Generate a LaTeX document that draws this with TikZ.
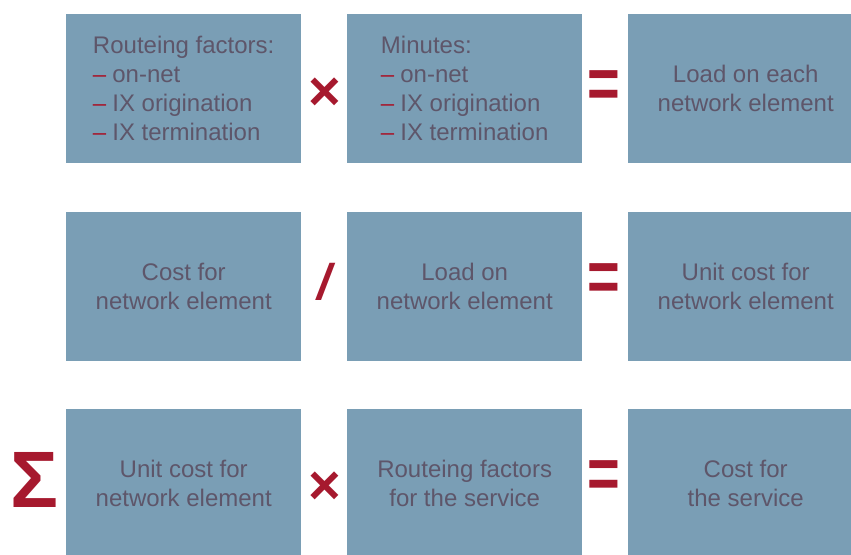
\documentclass[tikz,border=0pt]{standalone}
\usepackage{fontspec}
\setmainfont{Liberation Sans}
\usepackage{xcolor}
\definecolor{cellblue}{RGB}{122,158,181}
\definecolor{celltext}{RGB}{94,86,106}
\definecolor{opred}{RGB}{166,25,46}
\newcommand{\reddash}{{\color{opred}–}\hspace{6pt}}

\begin{document}
\begin{tikzpicture}[x=1pt,y=-1pt,
  cell/.style={fill=cellblue, text=celltext, minimum width=235pt, minimum height=149pt,
    inner sep=0pt, anchor=north west, align=center, font=\fontsize{24}{29}\selectfont},
  listcell/.style={cell, align=left},
  oper/.style={text=opred, inner sep=0pt}]
  % page frame, last row and column run off it
  \useasboundingbox (0,0) rectangle (851,554);
  \clip (0,0) rectangle (851,554);

  % first row: routeing factors x minutes = load
  \node[listcell] (factors) at (66,14) {Routeing factors:\\ \reddash on-net\\ \reddash IX origination\\ \reddash IX termination};
  \node[listcell] (minutes) at (347,14) {Minutes:\\ \reddash on-net\\ \reddash IX origination\\ \reddash IX termination};
  \node[cell] (load) at (628,14) {Load on each\\ network element};

  % second row: cost / load = unit cost
  \node[cell] (cost) at (66,212) {Cost for\\ network element};
  \node[cell] (loadne) at (347,212) {Load on\\ network element};
  \node[cell] (unitcost) at (628,212) {Unit cost for\\ network element};

  % third row: sum of unit cost x service factors = service cost
  \node[cell] (unitne) at (66,409) {Unit cost for\\ network element};
  \node[cell] (servfac) at (347,409) {Routeing factors\\ for the service};
  \node[cell] (servcost) at (628,409) {Cost for\\ the service};

  % operators
  \node[oper, font=\bfseries\fontsize{56}{56}\selectfont] (times1) at (325,94) {×};
  \node[oper, font=\bfseries\fontsize{56}{56}\selectfont] (times3) at (325,488) {×};
  \node[oper, font=\bfseries\fontsize{50}{50}\selectfont] (div) at (327,282) {\textit{/}};
  \foreach \name/\y in {eq1/90, eq2/283, eq3/480} {
    \node[oper, font=\bfseries\fontsize{56}{56}\selectfont] (\name) at (604,\y) {\scalebox{1}[1.3]{=}};
  }
  \node[oper, font=\bfseries\fontsize{80}{80}\selectfont] (sum) at (35,480) {Σ};
\end{tikzpicture}
\end{document}
